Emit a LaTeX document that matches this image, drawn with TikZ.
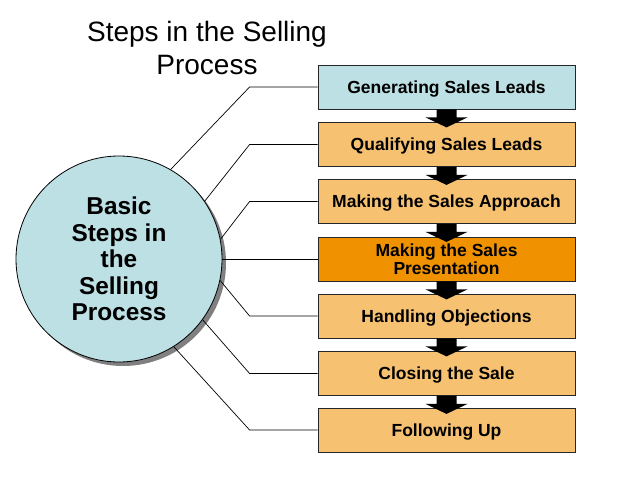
\documentclass[tikz,border=0pt]{standalone}
\usepackage{fontspec}
\setmainfont{Liberation Sans}
\usetikzlibrary{shadows}
\definecolor{lblue}{RGB}{189,224,228}
\definecolor{lorange}{RGB}{246,193,112}
\definecolor{dorange}{RGB}{240,146,0}
\tikzset{
  stepbox/.style={draw=black!85, line width=0.8pt, minimum width=257pt, minimum height=44pt, inner sep=0pt, text depth=0pt, align=center, font=\fontsize{17.5}{18.3}\selectfont\bfseries, fill=lorange},
  conn/.style={draw=black, line width=0.7pt},
  flowarrow/.style={fill=black},
}
\begin{document}
\begin{tikzpicture}[x=1pt,y=-1pt]
\useasboundingbox (0,0) rectangle (638,479);
\fill[white] (0,0) rectangle (638,479);
\node[align=center, font=\fontsize{28}{33}\selectfont] (title) at (207,48) {Steps in the Selling\\Process};
\node[circle, minimum size=206pt, inner sep=0pt, fill=lblue, draw=black, line width=0.8pt,
      drop shadow={shadow xshift=4pt, shadow yshift=-4pt, fill=black!50, opacity=1},
      align=center, font=\fontsize{24.4}{26.5}\selectfont\bfseries] (c) at (119,259)
      {Basic\\Steps in\\the\\Selling\\Process};
\node[stepbox, fill=lblue] (b1) at (446.5,87) {Generating Sales Leads};
\node[stepbox] (b2) at (446.5,144.5) {Qualifying Sales Leads};
\node[stepbox] (b3) at (446.5,201.5) {Making the Sales Approach};
\node[stepbox, fill=dorange] (b4) at (446.5,259) {Making the Sales\\Presentation};
\node[stepbox] (b5) at (446.5,316) {Handling Objections};
\node[stepbox] (b6) at (446.5,373.5) {Closing the Sale};
\node[stepbox] (b7) at (446.5,430) {Following Up};
\foreach \a/\b in {b1/b2,b2/b3,b3/b4,b4/b5,b5/b6,b6/b7}{
  \fill[flowarrow] (\a.south) ++(-10,0) -- ++(0,8) -- ++(-11,0) -- ++(21,10) -- ++(21,-10) -- ++(-11,0) -- ++(0,-8) -- cycle;
}
\draw[conn] (c.60) -- ([xshift=-68pt]b1.west) -- (b1.west);
\draw[conn] (c.34) -- ([xshift=-68pt]b2.west) -- (b2.west);
\draw[conn] (c.11) -- ([xshift=-68pt]b3.west) -- (b3.west);
\draw[conn] (c.0) -- (b4.west);
\draw[conn] (c.-12) -- ([xshift=-68pt]b5.west) -- (b5.west);
\draw[conn] (c.-36) -- ([xshift=-68pt]b6.west) -- (b6.west);
\draw[conn] (c.-58) -- ([xshift=-68pt]b7.west) -- (b7.west);
\end{tikzpicture}
\end{document}
